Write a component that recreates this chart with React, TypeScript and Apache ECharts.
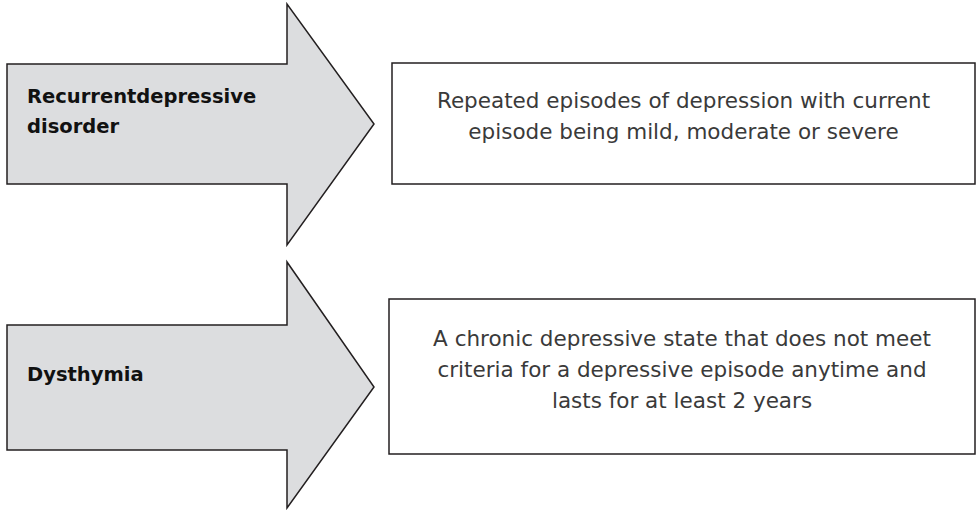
import React, { useEffect, useRef } from "react";
import * as echarts from "echarts";

const labels = [["Recurrentdepressive", "disorder"], ["Dysthymia"]];
const descriptions = [
  ["Repeated episodes of depression with current", "episode being mild, moderate or severe"],
  [
    "A chronic depressive state that does not meet",
    "criteria for a depressive episode anytime and",
    "lasts for at least 2 years",
  ],
];

const FILL = "#dcdddf";
const STROKE = "#231f20";
const FONT = "'DejaVu Sans', 'Noto Sans', sans-serif";

// geometry per row: arrow body top/bottom, head top/bottom, tip y, box top/bottom/left
const rows = [
  { bodyT: 64, bodyB: 184, headT: 4, headB: 245, tip: 124, boxL: 392, boxT: 63, boxB: 184, labelY: [96, 126], descY: [100, 131] },
  { bodyT: 325, bodyB: 450, headT: 262, headB: 508, tip: 387, boxL: 389, boxT: 299, boxB: 454, labelY: [374], descY: [338, 369, 400] },
];

export default function App() {
  const ref = useRef<HTMLDivElement>(null);
  useEffect(() => {
    const chart = echarts.init(ref.current!, null, { renderer: "svg" });
    const elements: any[] = [];
    rows.forEach((r, i) => {
      elements.push({
        type: "polygon",
        shape: {
          points: [
            [7, r.bodyT],
            [287, r.bodyT],
            [287, r.headT],
            [374, r.tip],
            [287, r.headB],
            [287, r.bodyB],
            [7, r.bodyB],
          ],
        },
        style: { fill: FILL, stroke: STROKE, lineWidth: 1.5 },
      });
      elements.push({
        type: "rect",
        shape: { x: r.boxL, y: r.boxT, width: 975 - r.boxL, height: r.boxB - r.boxT },
        style: { fill: "#ffffff", stroke: STROKE, lineWidth: 1.5 },
      });
      labels[i].forEach((t, j) => {
        elements.push({
          type: "text",
          x: 27,
          y: r.labelY[j],
          style: {
            text: t,
            fill: "#111111",
            font: `bold 19.5px ${FONT}`,
            textAlign: "left",
            textVerticalAlign: "middle",
          },
        });
      });
      descriptions[i].forEach((t, j) => {
        elements.push({
          type: "text",
          x: (r.boxL + 975) / 2,
          y: r.descY[j],
          style: {
            text: t,
            fill: "#3a3a3a",
            font: `21.5px ${FONT}`,
            textAlign: "center",
            textVerticalAlign: "middle",
          },
        });
      });
    });
    chart.setOption({ animation: false, graphic: { elements } });
    return () => chart.dispose();
  }, []);
  return (
    <div
      ref={ref}
      style={{ position: "absolute", left: 0, top: 0, width: 977, height: 519, background: "#fff" }}
    />
  );
}
